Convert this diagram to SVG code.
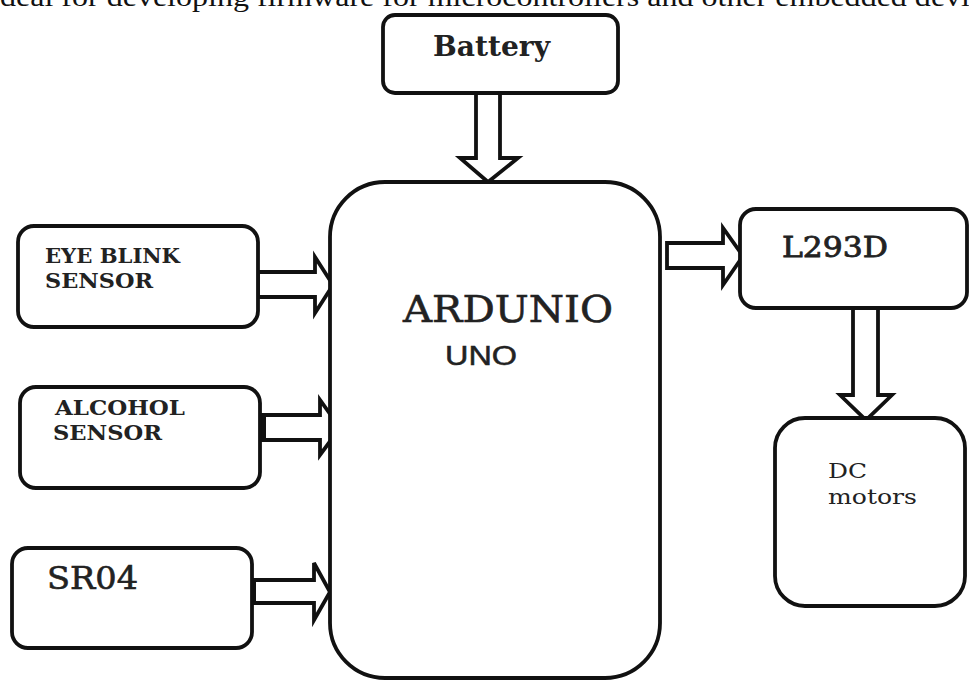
<svg xmlns="http://www.w3.org/2000/svg" width="969" height="681" viewBox="0 0 969 681">
<style>
.box{fill:#fff;stroke:#111;stroke-width:3.8}
.arr{fill:#fff;stroke:#111;stroke-width:3.8;stroke-linejoin:miter}
.lbl{font-family:"DejaVu Serif","Liberation Serif",serif;fill:#222}
.sans{font-family:"Liberation Sans","DejaVu Sans",sans-serif;fill:#222}
</style>
<rect width="969" height="681" fill="#fff"/>
<text x="0" y="6" font-family="Liberation Serif, serif" font-size="28" fill="#111" textLength="970" lengthAdjust="spacingAndGlyphs">deal for developing firmware for microcontrollers and other embedded devi</text>
<g id="connectors">
<polygon class="arr" points="476,93 500,93 500,158 518,158 488,182 460,158 476,158"/>
<polygon class="arr" points="258,272 315,272 315,257 333,285 315,313 315,297 258,297"/>
<polygon class="arr" points="262,415 320,415 320,400 340,428 320,455 320,440 262,440"/>
<rect x="260" y="415" width="6" height="25" fill="#111"/>
<polygon class="arr" points="252,580 314,580 314,563 330,592 314,620 314,603 252,603"/>
<rect x="251" y="580" width="5" height="23" fill="#111"/>
<polygon class="arr" points="667,243 723,243 723,228 743,256 723,285 723,268 667,268"/>
<polygon class="arr" points="853,308 878,308 878,395 892,395 866,420 840,395 853,395"/>
</g>
<g id="battery">
<rect class="box" x="383" y="15" width="235" height="78" rx="12"/>
<text class="lbl" x="433" y="56" font-size="27" font-weight="bold" textLength="117" lengthAdjust="spacingAndGlyphs">Battery</text>
</g>
<g id="eyeblink">
<rect class="box" x="18" y="226" width="240" height="101" rx="16"/>
<text class="lbl" x="45" y="263" font-size="21" font-weight="bold" textLength="135" lengthAdjust="spacingAndGlyphs">EYE BLINK</text>
<text class="lbl" x="45" y="288" font-size="21" font-weight="bold" textLength="108" lengthAdjust="spacingAndGlyphs">SENSOR</text>
</g>
<g id="alcohol">
<rect class="box" x="20" y="387" width="240" height="101" rx="16"/>
<text class="lbl" x="55" y="415" font-size="21" font-weight="bold" textLength="130" lengthAdjust="spacingAndGlyphs">ALCOHOL</text>
<text class="lbl" x="53" y="440" font-size="21" font-weight="bold" textLength="109" lengthAdjust="spacingAndGlyphs">SENSOR</text>
</g>
<g id="sr04">
<rect class="box" x="12" y="548" width="240" height="100" rx="16"/>
<text class="lbl" x="47" y="589" font-size="31" textLength="91" lengthAdjust="spacingAndGlyphs" stroke="#222" stroke-width="0.6">SR04</text>
</g>
<g id="arduino">
<rect class="box" x="330" y="182" width="330" height="496" rx="55"/>
<text class="lbl" x="403" y="322" font-size="38" textLength="210" lengthAdjust="spacingAndGlyphs" stroke="#222" stroke-width="0.6">ARDUNIO</text>
<text class="sans" x="445" y="365" font-size="27" textLength="72" lengthAdjust="spacingAndGlyphs" stroke="#222" stroke-width="0.5">UNO</text>
</g>
<g id="l293d">
<rect class="box" x="740" y="209" width="227" height="99" rx="16"/>
<text class="lbl" x="782" y="257" font-size="27" textLength="106" lengthAdjust="spacingAndGlyphs" stroke="#222" stroke-width="0.8">L293D</text>
</g>
<g id="dcmotors">
<rect class="box" x="775" y="418" width="190" height="188" rx="30"/>
<text class="lbl" x="828" y="478" font-size="20" textLength="39" lengthAdjust="spacingAndGlyphs" fill="#444">DC</text>
<text class="lbl" x="828" y="504" font-size="20" textLength="89" lengthAdjust="spacingAndGlyphs" fill="#444">motors</text>
</g>
</svg>
